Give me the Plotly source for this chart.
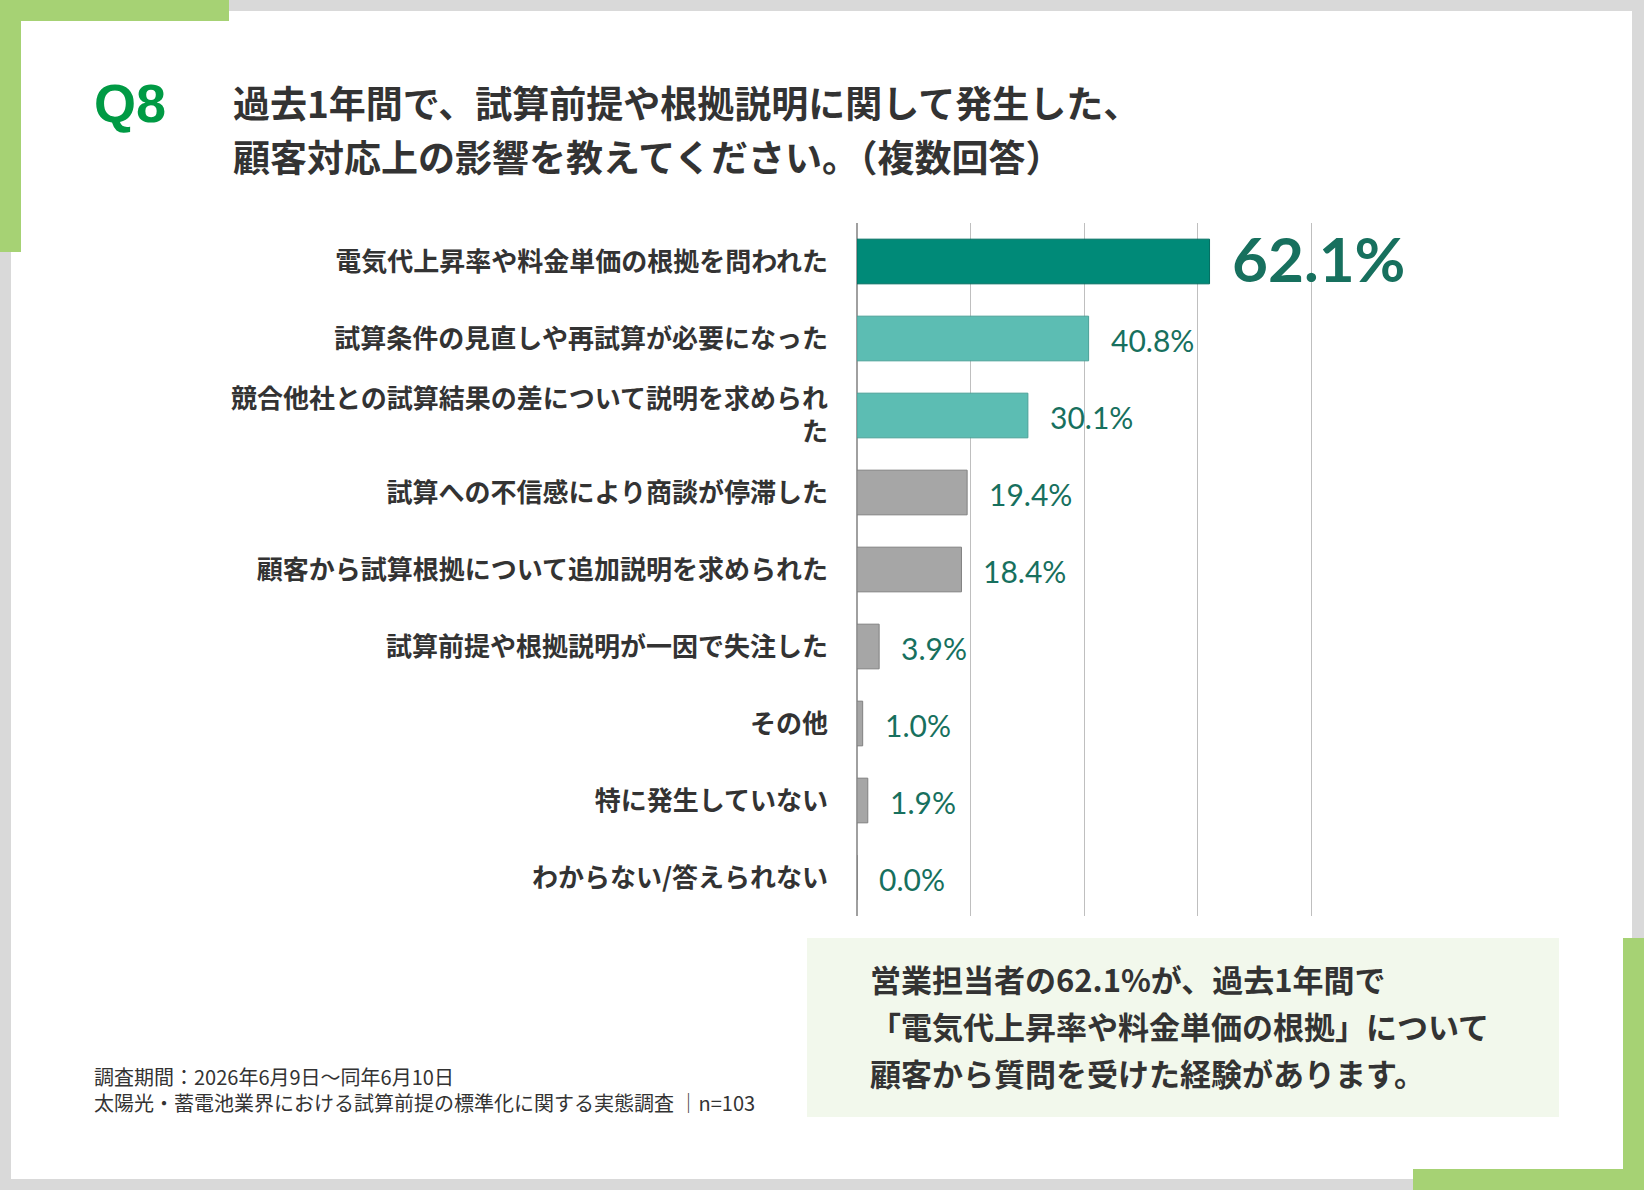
import plotly.graph_objects as go

W, H = 1644, 1190

# survey data
categories = [
    "電気代上昇率や料金単価の根拠を問われた",
    "試算条件の見直しや再試算が必要になった",
    "競合他社との試算結果の差について説明を求められ<br>た",
    "試算への不信感により商談が停滞した",
    "顧客から試算根拠について追加説明を求められた",
    "試算前提や根拠説明が一因で失注した",
    "その他",
    "特に発生していない",
    "わからない/答えられない",
]
values = [62.1, 40.8, 30.1, 19.4, 18.4, 3.9, 1.0, 1.9, 0.0]
x_ticks = [0, 20, 40, 60, 80]

title_lines = [
    "過去1年間で、試算前提や根拠説明に関して発生した、",
    "顧客対応上の影響を教えてください。（複数回答）",
]
callout_lines = [
    "営業担当者の62.1%が、過去1年間で",
    "「電気代上昇率や料金単価の根拠」について",
    "顧客から質問を受けた経験があります。",
]
note_lines = [
    "調査期間：2026年6月9日～同年6月10日",
    "太陽光・蓄電池業界における試算前提の標準化に関する実態調査 │n=103",
]

JP = "Noto Sans CJK JP"
bar_colors = ["#008A78", "#5CBDB3", "#5CBDB3"] + ["#A6A6A6"] * 6
line_colors = ["#006E60", "#4AA097", "#4AA097"] + ["#808080"] * 6


def px(x):
    return x / W


def py(y):
    return 1 - y / H


fig = go.Figure(go.Bar(
    x=values,
    y=categories,
    orientation="h",
    marker=dict(color=bar_colors, line=dict(color=line_colors, width=1)),
    width=0.58,
    hoverinfo="skip",
))

# value labels next to each bar
for i, (c, v) in enumerate(zip(categories, values)):
    big = i == 0
    fig.add_annotation(
        x=v, y=c, xref="x", yref="y",
        text=f"{v:.1f}%",
        showarrow=False, xanchor="left", yanchor="middle",
        xshift=20, yshift=4 if big else -1,
        font=dict(family="Lato", size=62 if big else 30,
                  color="#17705E", weight="bold" if big else "normal"),
    )

# frame and corner accents
shapes = []


def rect(x0, y0, x1, y1, color):
    shapes.append(dict(type="rect", xref="paper", yref="paper",
                       x0=px(x0), x1=px(x1), y0=py(y1), y1=py(y0),
                       fillcolor=color, line=dict(width=0), layer="below"))


grey = "#D9D9D9"
green = "#A6D274"
rect(0, 0, W, 11, grey)
rect(0, 0, 11, H, grey)
rect(W - 12, 0, W, H, grey)
rect(0, H - 11, W, H, grey)
rect(0, 0, 229, 21, green)
rect(0, 0, 21, 252, green)
rect(W - 21, 938, W, H, green)
rect(1413, H - 21, W, H, green)
rect(807, 938, 1559, 1117, "#F2F8EC")

annotations = [
    dict(x=px(92), y=py(103), text="Q8", xanchor="left", yanchor="middle",
         font=dict(family="Liberation Sans", size=54, color="#009A44", weight="bold")),
]
for k, t in enumerate(title_lines):
    annotations.append(dict(
        x=px(231), y=py(102 + k * 54), text=t, xanchor="left", yanchor="middle",
        font=dict(family=JP, size=37, color="#333333", weight="bold")))
for k, t in enumerate(callout_lines):
    annotations.append(dict(
        x=px(868), y=py(978 + k * 47), text=t, xanchor="left", yanchor="middle",
        font=dict(family=JP, size=31, color="#333333", weight="bold")))
for k, t in enumerate(note_lines):
    annotations.append(dict(
        x=px(92), y=py(1076 + k * 26), text=t, xanchor="left", yanchor="middle",
        font=dict(family=JP, size=20, color="#333333")))
for a in annotations:
    a.update(xref="paper", yref="paper", showarrow=False)
    fig.add_annotation(**a)

fig.update_layout(
    width=W, height=H,
    margin=dict(l=0, r=0, t=0, b=0),
    paper_bgcolor="white",
    plot_bgcolor="white",
    showlegend=False,
    shapes=shapes,
    xaxis=dict(
        domain=[px(857), px(1314)],
        range=[0, 80.5],
        tickvals=x_ticks,
        showticklabels=False,
        showgrid=True, gridcolor="#BFBFBF", gridwidth=1,
        zeroline=True, zerolinecolor="#A0A0A0", zerolinewidth=1.5,
        fixedrange=True,
    ),
    yaxis=dict(
        domain=[py(916), py(223)],
        autorange="reversed",
        showgrid=False, zeroline=False,
        ticks="", ticklabelstandoff=28,
        tickfont=dict(family=JP, size=26, color="#333333", weight="bold"),
        fixedrange=True,
    ),
)

# drop the default page margin so the figure sits at the window's corner
fig.write_html("out.html", config={"displayModeBar": False},
               post_script="document.body.style.margin='0';")
